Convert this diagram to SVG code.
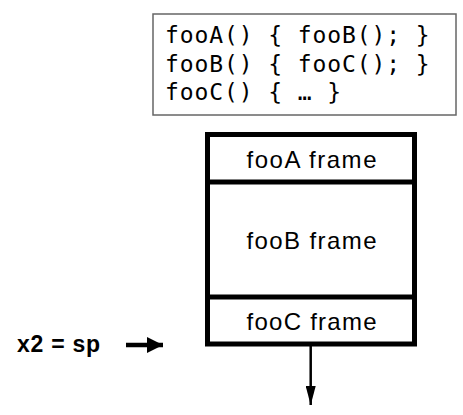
<svg xmlns="http://www.w3.org/2000/svg" width="463" height="415" viewBox="0 0 463 415">
<style>
.code{font-family:"DejaVu Sans Mono","Liberation Mono",monospace;font-size:23px;letter-spacing:0.9px;fill:#000;white-space:pre}
.lbl{font-family:"Liberation Sans","Noto Sans",sans-serif;font-size:24px;fill:#000;text-anchor:middle}
.bold{font-family:"Liberation Sans",Arial,sans-serif;font-size:23px;font-weight:bold;fill:#000}
.frame{fill:#fff;stroke:#000;stroke-width:5}
</style>
<defs>
<marker id="headR" markerUnits="userSpaceOnUse" markerWidth="16" markerHeight="16" refX="16" refY="8" orient="auto">
<path d="M0,0 L16,8 L0,16 Z" fill="#000"/>
</marker>
<marker id="headD" markerUnits="userSpaceOnUse" markerWidth="19" markerHeight="10" refX="19" refY="5" orient="auto">
<path d="M0,0 L19,5 L0,10 Z" fill="#000"/>
</marker>
</defs>
<rect width="463" height="415" fill="#fff"/>
<g id="code">
<rect x="153" y="14" width="303" height="101" fill="#fff" stroke="#666" stroke-width="1.5"/>
<text class="code" x="165" y="43" xml:space="preserve">fooA() { fooB(); }</text>
<text class="code" x="165" y="71.5" xml:space="preserve">fooB() { fooC(); }</text>
<text class="code" x="165" y="100" xml:space="preserve">fooC() { … }</text>
</g>
<g id="stack">
<rect class="frame" x="207.5" y="134.5" width="207" height="209.5"/>
<line x1="207.5" y1="182" x2="414.5" y2="182" stroke="#000" stroke-width="5"/>
<line x1="207.5" y1="297" x2="414.5" y2="297" stroke="#000" stroke-width="5"/>
</g>
<g id="fooA"><text class="lbl" x="311.5" y="167.5" textLength="130">fooA frame</text></g>
<g id="fooB"><text class="lbl" x="311.5" y="248.5" textLength="130">fooB frame</text></g>
<g id="fooC"><text class="lbl" x="311.5" y="330" textLength="130">fooC frame</text></g>
<g id="sp"><text class="bold" x="17" y="352" textLength="83">x2 = sp</text></g>
<g id="connectors">
<line x1="126" y1="345" x2="163" y2="345" stroke="#000" stroke-width="4.5" marker-end="url(#headR)"/>
<line x1="310.7" y1="346" x2="310.7" y2="405" stroke="#000" stroke-width="2.5" marker-end="url(#headD)"/>
</g>
</svg>
